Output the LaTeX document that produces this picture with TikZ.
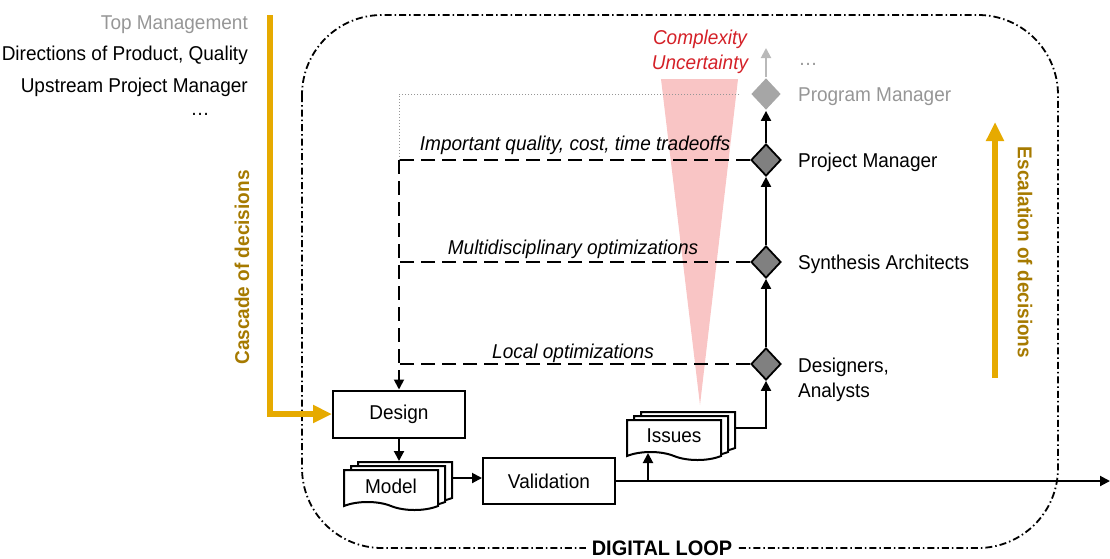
\documentclass[tikz,border=0pt]{standalone}
\usepackage{fontspec}
\setmainfont{Liberation Sans}[FakeStretch=0.95]
\usetikzlibrary{positioning,shapes.geometric,shapes.symbols,shadows,arrows.meta}

\definecolor{gold}{RGB}{230,170,0}
\definecolor{golddark}{RGB}{166,122,0}
\definecolor{redtxt}{RGB}{212,32,39}
\definecolor{pinkfill}{RGB}{249,197,197}
\definecolor{greytxt}{RGB}{150,150,150}
\definecolor{greylight}{RGB}{185,185,185}

\tikzset{
  txt/.style={font=\fontsize{20}{25}\selectfont, inner sep=0pt, yshift=-2.5pt},
  boldtxt/.style={txt, font=\fontsize{20}{25}\selectfont\bfseries, text=golddark},
  box/.style={draw, line width=2pt, minimum width=132pt, minimum height=47pt,
    font=\fontsize{20}{25}\selectfont},
  doc/.style={tape, tape bend top=none, tape bend bottom=out and in, tape bend height=8pt,
    draw, fill=white, line width=2pt, minimum width=94pt, minimum height=40pt,
    font=\fontsize{20}{25}\selectfont,
    copy shadow={shadow xshift=14pt, shadow yshift=8pt, line width=2pt},
    copy shadow={shadow xshift=7pt, shadow yshift=4pt, line width=2pt}},
  role/.style={diamond, draw, fill=black!50, line width=1.8pt, inner sep=0pt,
    minimum width=30pt, minimum height=32pt},
  conn/.style={line width=2pt, -{Triangle[length=10pt,width=10pt]}},
  fbline/.style={line width=1.8pt, dash pattern=on 14pt off 7pt},
  goldline/.style={draw=gold, line width=6pt, -{Triangle[length=19pt,width=17pt]}},
  loopline/.style={line width=1.8pt, dash pattern=on 7pt off 3pt on 1.5pt off 3pt}
}

\begin{document}
\begin{tikzpicture}[x=1pt, y=-1pt]
\useasboundingbox (0,0) rectangle (1110,558);

% digital loop frame
\draw[loopline, rounded corners=80pt] (302,15) rectangle (1058,548);
\node[txt, fill=white, inner xsep=6pt, inner ysep=3pt, yshift=2.5pt,
  font=\fontsize{21}{25}\selectfont\bfseries] (loop) at (662,548) {DIGITAL LOOP};

% complexity funnel
\fill[pinkfill] (661,79) -- (738,79) -- (700,405) -- cycle;
\node[txt, text=redtxt, font=\fontsize{20}{25}\selectfont\itshape, align=center]
  (cplx) at (700,49) {Complexity\\Uncertainty};

% upstream
\node[txt, anchor=east, text=greytxt] (top) at (248,22) {Top Management};
\node[txt, anchor=east] (dir) at (248,53) {Directions of Product, Quality};
\node[txt, anchor=east] (ups) at (248,85) {Upstream Project Manager};
\node[txt] (updots) at (200,112) {…};

% loop blocks
\node[box] (design) at (399,414) {Design};
\node[doc] (model) at (391,486) {Model};
\node[box, minimum height=46pt] (valid) at (549,481) {Validation};
\node[doc] (issues) at (674,436) {Issues};

% roles
\node[role, draw=none, fill=black!35] (prog) at (766,94) {};
\node[role] (pm) at (766,160) {};
\node[role] (syn) at (766,262) {};
\node[role] (des) at (766,364) {};
\node[txt, text=greytxt, right=16pt of prog] (progl) {Program Manager};
\node[txt, right=16pt of pm] (pml) {Project Manager};
\node[txt, right=16pt of syn] (synl) {Synthesis Architects};
\node[txt, align=left, anchor=base west] (desl) at ([xshift=16pt, yshift=-30.5pt]des.east) {Designers,\\Analysts};
\node[txt, text=greytxt] (progdots) at (808,62) {…};

% cascade and escalation
\coordinate (ctop) at (270,15);
\draw[goldline] (ctop) |- (design.west);
\node[boldtxt, rotate=90] (casc) at (242,265) {Cascade of decisions};
\coordinate (escbot) at (995,378);
\coordinate (esctop) at (995,122);
\draw[goldline] (escbot) -- (esctop);
\node[boldtxt, rotate=-90] (esc) at (1025,250) {Escalation of decisions};

% feedback lines
\coordinate (fbtop) at (399,94);
\draw[greytxt, line width=1pt, dash pattern=on 1pt off 2pt, shorten <=11pt] (prog.west) -- (fbtop) -- (fbtop |- pm.west);
\draw[fbline] (pm.west) -- (pm.west -| design.north);
\draw[fbline] (syn.west) -- (syn.west -| design.north);
\draw[fbline] (des.west) -- (des.west -| design.north);
\draw[fbline, -{Triangle[length=10pt,width=10pt]}] (pm.west -| design.north) -- (design.north);
\node[txt, font=\fontsize{20}{25}\selectfont\itshape] (tradel) at (575,143) {Important quality, cost, time tradeoffs};
\node[txt, font=\fontsize{20}{25}\selectfont\itshape] (multil) at (573,247) {Multidisciplinary optimizations};
\node[txt, font=\fontsize{20}{25}\selectfont\itshape] (locl) at (573,351) {Local optimizations};

% flow
\coordinate (modelin) at ([yshift=8pt]model.north -| design.south);
\draw[conn] (design.south) -- (modelin);
\coordinate (modelout) at ([xshift=14pt, yshift=8pt]model.east);
\draw[conn] (modelout) -- (modelout -| valid.west);
\coordinate (out) at (1110,481);
\draw[conn] (valid.east) -- (out);
\coordinate (split) at (648,481);
\draw[conn] (split) -- (split |- issues.south);
\coordinate (issuesout) at ([xshift=14pt, yshift=8pt]issues.east);
\draw[conn] (issuesout) -| (des);
\draw[conn] (des) -- (syn);
\draw[conn] (syn) -- (pm);
\draw[conn] (pm) -- (prog);
\coordinate (progtop) at (766,48);
\draw[conn, greylight] (prog) -- (progtop);
\end{tikzpicture}
\end{document}
